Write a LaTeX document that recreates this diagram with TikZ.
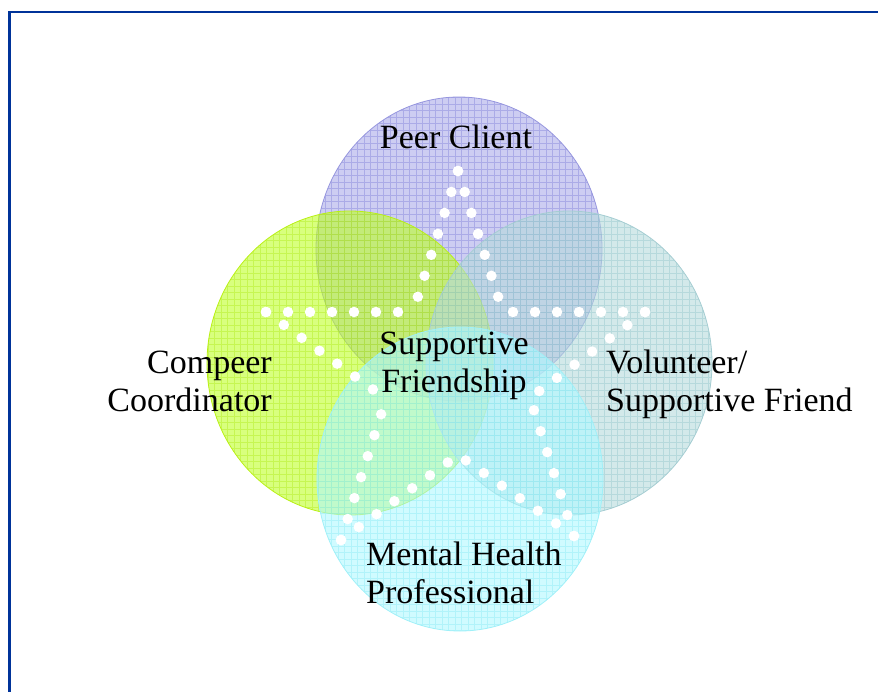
\documentclass[tikz,border=0pt]{standalone}
\usepackage{fontspec}
\setmainfont{Liberation Serif}
\usepackage{tikz}
\usetikzlibrary{positioning}
\usepackage{xcolor}

\definecolor{frameblue}{RGB}{0,51,153}
\definecolor{peerF}{RGB}{172,172,233}
\definecolor{peerL}{RGB}{110,110,210}
\definecolor{peerE}{RGB}{150,150,222}
\definecolor{compF}{RGB}{190,255,40}
\definecolor{compL}{RGB}{165,230,0}
\definecolor{compE}{RGB}{185,240,20}
\definecolor{volF}{RGB}{182,218,220}
\definecolor{volL}{RGB}{130,190,196}
\definecolor{volE}{RGB}{165,205,210}
\definecolor{mhpF}{RGB}{177,248,255}
\definecolor{mhpL}{RGB}{120,230,242}
\definecolor{mhpE}{RGB}{160,240,248}

\begin{document}
\begin{tikzpicture}[x=1pt,y=-1pt,
			lbl/.style={font=\fontsize{34}{38}\selectfont,inner sep=0pt},
			dots/.style={white,line width=10.5pt,line cap=round,dash pattern=on 0pt off 22pt},
			]

			%size
			\useasboundingbox (0,0) rectangle (878,691);
			%frame
			\draw[frameblue,line width=2.5pt] (9.5,720) -- (9.5,12) -- (900,12);

			%circles
			\foreach \cx/\cy/\c in {459/249/peer, 350/363/comp, 569/363/vol, 460/479/mhp}
			{
				\fill[\c F,fill opacity=.6] (\cx,\cy) ellipse [x radius=143, y radius=152];
				\begin{scope}
					\clip (\cx,\cy) ellipse [x radius=143, y radius=152];
					\draw[\c L,draw opacity=.35,line width=.6pt,step=6.5pt] (\cx-150,\cy+160) grid (\cx+150,\cy-160);
				\end{scope}
				\draw[\c E,line width=.8pt] (\cx,\cy) ellipse [x radius=143, y radius=152];
			}

			%star
			\coordinate (T) at (458,171);
			\coordinate (L) at (266,312);
			\coordinate (R) at (645,312);
			\coordinate (BL) at (341,540);
			\coordinate (BR) at (574,536);
			\coordinate (IUL) at (413,312);
			\coordinate (IUR) at (503,312);
			\coordinate (IL) at (386,399);
			\coordinate (IR) at (530,398);
			\coordinate (IB) at (458,455);
			\foreach \a/\b in {T/IUR, T/IUL, L/IUL, L/IL, BL/IL, BL/IB, BR/IB, BR/IR, R/IR, R/IUR}
			{
				\draw[dots] (\a) -- (\b);
			}

			%labels
			\node[lbl,anchor=base] (peer) at (456,148) {Peer Client};
			\node[lbl,align=right,anchor=east] (compeer) at (272,381) {Compeer\\Coordinator};
			\node[lbl,align=center] (friendship) at (454,366) {Supportive\\Friendship};
			\node[lbl,align=left,anchor=west] (volunteer) at (606,384) {Volunteer/\\Supportive Friend};
			\node[lbl,align=left,anchor=west] (mhp) at (366,573) {Mental Health\\Professional};

\end{tikzpicture}
\end{document}
